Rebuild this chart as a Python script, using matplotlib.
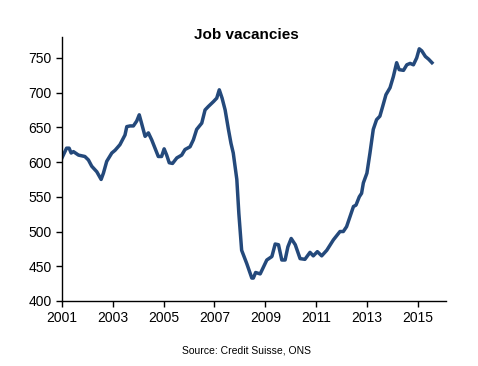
import matplotlib
matplotlib.use('Agg')
import matplotlib.pyplot as plt

# data (decimal year, vacancies in thousands)
years = [2001.0, 2001.18, 2001.28, 2001.36, 2001.45, 2001.65, 2001.9, 2002.04, 2002.17,
         2002.37, 2002.54, 2002.63, 2002.76, 2002.96, 2003.09, 2003.28, 2003.48, 2003.55,
         2003.68, 2003.81, 2003.94, 2004.04, 2004.13, 2004.27, 2004.4, 2004.53, 2004.66,
         2004.79, 2004.92, 2005.02, 2005.12, 2005.22, 2005.35, 2005.52, 2005.71, 2005.84,
         2006.04, 2006.17, 2006.3, 2006.5, 2006.63, 2006.76, 2006.96, 2007.09, 2007.19,
         2007.3, 2007.42, 2007.55, 2007.65, 2007.74, 2007.88, 2007.96, 2008.07, 2008.27,
         2008.47, 2008.53, 2008.62, 2008.8, 2008.93, 2009.06, 2009.26, 2009.39, 2009.52,
         2009.65, 2009.78, 2009.89, 2010.02, 2010.18, 2010.37, 2010.56, 2010.76, 2010.89,
         2011.05, 2011.22, 2011.42, 2011.68, 2011.94, 2012.07, 2012.2, 2012.34, 2012.47,
         2012.57, 2012.7, 2012.79, 2012.86, 2013.0, 2013.12, 2013.25, 2013.38, 2013.51,
         2013.62, 2013.75, 2013.91, 2014.04, 2014.17, 2014.27, 2014.44, 2014.57, 2014.7,
         2014.83, 2014.96, 2015.06, 2015.16, 2015.3, 2015.43, 2015.56]
vacancies = [606, 620, 620, 613, 615, 610, 608, 603, 594,
             586, 575, 584, 601, 613, 617, 625, 639, 651,
             652, 652, 659, 668, 656, 637, 642, 632, 620,
             608, 608, 619, 610, 599, 598, 606, 610, 618,
             622, 632, 647, 656, 675, 680, 687, 692, 704,
             692, 675, 647, 627, 613, 575, 526, 473, 454,
             433, 433, 441, 439, 449, 459, 464, 482, 481,
             459, 459, 478, 490, 481, 461, 460, 470, 465,
             471, 465, 473, 488, 500, 500, 507, 522, 536,
             538, 550, 555, 570, 584, 613, 647, 661, 666,
             680, 697, 707, 723, 743, 733, 732, 740, 742,
             740, 750, 763, 760, 752, 748, 743]

year_ticks = [2001, 2003, 2005, 2007, 2009, 2011, 2013, 2015]
value_ticks = [400, 450, 500, 550, 600, 650, 700, 750]

plt.rcParams['font.family'] = ['Liberation Sans', 'DejaVu Sans']

fig = plt.figure(figsize=(4.78, 3.66), dpi=100)
ax = fig.add_axes([0.1297, 0.1776, 0.8027, 0.7213])

ax.plot(years, vacancies, color='#24497B', linewidth=2.5, solid_joinstyle='round')

ax.set_xlim(2001, 2016.1)
ax.set_ylim(400, 780)
ax.set_xticks(year_ticks)
ax.set_yticks(value_ticks)
ax.tick_params(direction='out', length=4, width=1, labelsize=10, colors='black')

for side in ['top', 'right']:
    ax.spines[side].set_visible(False)
for side in ['left', 'bottom']:
    ax.spines[side].set_linewidth(1)

fig.text(0.516, 0.905, 'Job vacancies', ha='center', va='center',
         fontsize=11, fontweight='bold')
fig.text(0.516, 0.042, 'Source: Credit Suisse, ONS', ha='center', va='center', fontsize=7.5)

fig.savefig('out.png', dpi=100)
